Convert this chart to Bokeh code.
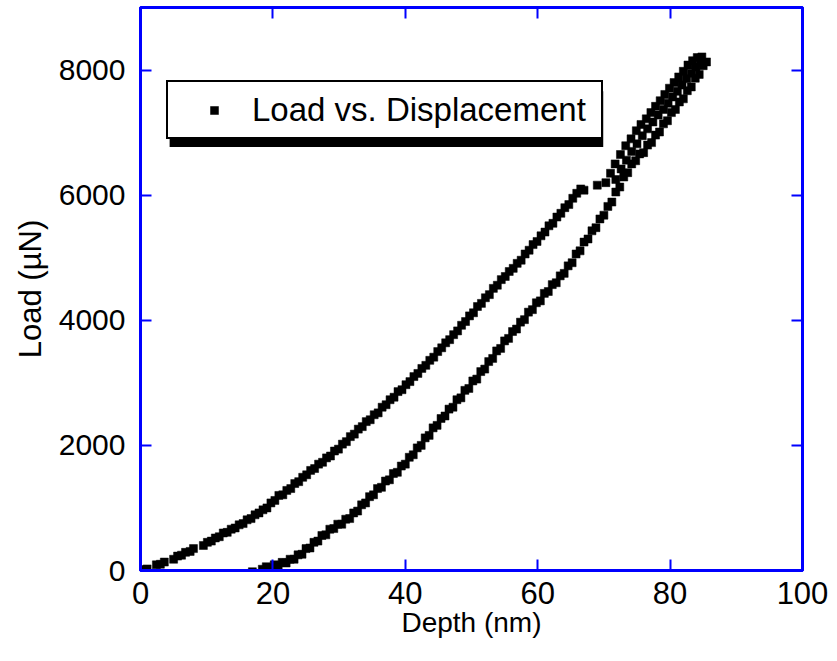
from bokeh.plotting import figure
from bokeh.models import (Range1d, LinearAxis, FixedTicker, Legend, LegendItem,
                          BoxAnnotation, ColumnDataSource)
from bokeh.embed import file_html
from bokeh.resources import INLINE

# ---- data (depth in nm, load in µN) ----
loading_depth = [0.0, 0.4, 1.0, 2.4, 3.0, 3.6, 5.0, 5.6, 6.2, 6.8, 7.5, 8.0,
                 9.5, 10.1, 10.7, 11.3, 11.9, 12.5, 13.1, 13.7, 14.3, 14.9, 15.5, 16.1,
                 16.7, 17.3, 17.9, 18.5, 19.1, 19.7, 20.3, 20.9, 21.5, 22.1, 22.7, 23.3,
                 23.9, 24.5, 25.1, 25.7, 26.3, 26.9, 27.5, 28.1, 28.7, 29.3, 29.9, 30.5,
                 31.1, 31.7, 32.3, 32.9, 33.5, 34.1, 34.7, 35.3, 35.9, 36.5, 37.1, 37.7,
                 38.3, 38.9, 39.5, 40.1, 40.7, 41.3, 41.9, 42.5, 43.1, 43.7, 44.3, 44.9,
                 45.5, 46.1, 46.7, 47.3, 47.9, 48.5, 49.1, 49.7, 50.3, 50.9, 51.5, 52.1,
                 52.7, 53.3, 53.9, 54.5, 55.1, 55.7, 56.3, 56.9, 57.5, 58.1, 58.7, 59.3,
                 59.9, 60.5, 61.1, 61.7, 62.3, 62.9, 63.5, 64.1, 64.7, 65.3, 65.9, 66.5,
                 67.0, 69.0,
                 70.3, 71.0, 71.7, 72.5, 73.3, 74.1, 74.9, 75.6, 76.4, 77.1, 77.8, 78.5,
                 79.2, 79.9, 80.6, 81.3, 82.0, 82.7, 83.4, 84.1, 84.8]
loading_load = [0, 15, 25, 90, 100, 135, 180, 230, 245, 290, 305, 350,
                400, 450, 470, 520, 540, 600, 610, 660, 680, 730, 750, 810,
                830, 890, 920, 970, 1000, 1080, 1120, 1200, 1210, 1280, 1310, 1390,
                1420, 1490, 1530, 1600, 1630, 1700, 1730, 1800, 1830, 1910, 1940, 2020,
                2060, 2140, 2180, 2260, 2300, 2380, 2410, 2490, 2520, 2610, 2650, 2730,
                2770, 2860, 2890, 2970, 3020, 3100, 3150, 3230, 3280, 3360, 3410, 3500,
                3560, 3640, 3690, 3770, 3830, 3920, 3980, 4070, 4120, 4220, 4270, 4360,
                4410, 4510, 4560, 4650, 4700, 4780, 4830, 4910, 4960, 5060, 5120, 5210,
                5260, 5350, 5410, 5510, 5550, 5650, 5710, 5800, 5850, 5950, 6030, 6100,
                6080, 6160,
                6200, 6350, 6500, 6650, 6790, 6900, 7030, 7130, 7220, 7320, 7420, 7510,
                7610, 7710, 7800, 7890, 7980, 8080, 8150, 8200, 8210]

# points filling the middle of the dense band near maximum load
hold_depth = [71.8, 72.6, 73.4, 74.2, 75.0, 75.8, 76.6, 77.4, 78.2, 79.0,
              79.7, 80.4, 81.1, 81.8, 82.5, 83.2, 83.9, 84.6]
hold_load = [6250, 6420, 6560, 6700, 6820, 6950, 7060, 7170, 7280, 7370,
             7470, 7570, 7660, 7760, 7860, 7950, 8050, 8120]

unloading_depth = [85.5, 85.0, 84.4, 83.8, 83.2, 82.6, 82.0, 81.4, 80.8, 80.2, 79.6, 79.0,
                   78.4, 77.8, 77.2, 76.6, 76.0, 75.4, 74.8, 74.2, 73.6, 73.0, 72.4, 71.8,
                   71.2, 70.6, 70.0, 69.4, 68.8, 68.2, 67.6, 67.0, 66.4, 65.8, 65.2, 64.6,
                   64.0, 63.4, 62.8, 62.2, 61.6, 61.0, 60.4, 59.8, 59.2, 58.6, 58.0, 57.4,
                   56.8, 56.2, 55.6, 55.0, 54.4, 53.8, 53.2, 52.6, 52.0, 51.4, 50.8, 50.2,
                   49.6, 49.0, 48.4, 47.8, 47.2, 46.6, 46.0, 45.4, 44.8, 44.2, 43.6, 43.0,
                   42.4, 41.8, 41.2, 40.6, 40.0, 39.4, 38.8, 38.2, 37.6, 37.0, 36.4, 35.8,
                   35.2, 34.6, 34.0, 33.4, 32.8, 32.2, 31.6, 31.0, 30.4, 29.8, 29.2, 28.6,
                   28.0, 27.4, 26.8, 26.2, 25.6, 25.0, 24.4, 23.8, 23.2, 22.6, 22.0, 21.4,
                   20.8, 20.2, 19.6, 19.0, 18.4, 16.9]
unloading_load = [8130, 8070, 7930, 7870, 7730, 7670, 7540, 7490, 7370, 7320, 7190, 7140,
                  7010, 6960, 6840, 6800, 6680, 6660, 6550, 6500, 6360, 6290, 6130, 6050,
                  5890, 5820, 5680, 5620, 5480, 5430, 5300, 5250, 5110, 5060, 4920, 4870,
                  4750, 4710, 4600, 4570, 4460, 4430, 4310, 4280, 4170, 4130, 4010, 3970,
                  3860, 3820, 3710, 3670, 3550, 3510, 3390, 3340, 3220, 3180, 3060, 3030,
                  2910, 2880, 2760, 2730, 2610, 2580, 2470, 2430, 2320, 2280, 2160, 2120,
                  2000, 1960, 1850, 1810, 1700, 1670, 1570, 1550, 1450, 1430, 1330, 1310,
                  1210, 1180, 1080, 1050, 950, 920, 830, 820, 740, 740, 670, 660,
                  570, 560, 470, 450, 360, 350, 260, 250, 180, 180, 120, 130,
                  80, 90, 40, 60, 20, -20]

x_ticks = [0, 20, 40, 60, 80, 100]
y_ticks = [0, 2000, 4000, 6000, 8000]
series_label = "Load vs. Displacement"
x_title = "Depth (nm)"
y_title = "Load (µN)"

# ---- figure ----
BLUE = "#0000ff"
FONT = "Liberation Sans"

src = ColumnDataSource(data=dict(depth=loading_depth + hold_depth + unloading_depth,
                                 load=loading_load + hold_load + unloading_load))

p = figure(width=837, height=661, output_backend="svg", toolbar_location=None,
           x_range=Range1d(0, 100), y_range=Range1d(0, 9000),
           min_border_left=140, min_border_right=35, min_border_top=7,
           min_border_bottom=91, x_axis_label=x_title, y_axis_label=y_title)
p.xgrid.visible = False
p.ygrid.visible = False
p.background_fill_color = "white"
p.border_fill_color = "white"
p.outline_line_color = BLUE
p.outline_line_width = 3

def style_axis(ax, ticks, font_size, standoff):
    ax.ticker = FixedTicker(ticks=ticks)
    ax.axis_line_color = BLUE
    ax.axis_line_width = 3
    ax.major_tick_line_color = BLUE
    ax.major_tick_line_width = 2
    ax.major_tick_in = 11
    ax.major_tick_out = 0
    ax.minor_tick_line_color = None
    ax.major_label_text_font = FONT
    ax.major_label_text_font_size = font_size
    ax.major_label_text_color = "black"
    ax.major_label_standoff = standoff
    ax.axis_label_text_font = FONT
    ax.axis_label_text_font_style = "normal"
    ax.axis_label_text_color = "black"

style_axis(p.xaxis[0], x_ticks, "31px", 11)
style_axis(p.yaxis[0], y_ticks, "30px", 15)
p.xaxis[0].axis_label_text_font_size = "28px"
p.yaxis[0].axis_label_text_font_size = "31px"
p.xaxis[0].axis_label_standoff = 0
p.yaxis[0].axis_label_standoff = 8

top_axis = LinearAxis()
right_axis = LinearAxis()
style_axis(top_axis, x_ticks, "0px", 0)
style_axis(right_axis, y_ticks, "0px", 0)
top_axis.major_label_text_color = None
right_axis.major_label_text_color = None
p.add_layout(top_axis, "above")
p.add_layout(right_axis, "right")

r = p.scatter(x="depth", y="load", source=src, marker="square", size=8,
              fill_color="black", line_color="black", line_width=0.5)

# legend shadow (offset box behind legend frame)
shadow = BoxAnnotation(left=4.4, right=69.9, top=7660, bottom=6770,
                       fill_color="black", fill_alpha=1, line_color=None)
p.add_layout(shadow)

legend = Legend(items=[LegendItem(label=series_label, renderers=[r])],
                location=(26, 431), orientation="vertical",
                label_text_font=FONT, label_text_font_size="33px",
                label_text_color="black", label_width=341, label_height=39,
                border_line_color="black", border_line_width=2, border_line_alpha=1,
                background_fill_color="white", background_fill_alpha=1,
                padding=8, margin=0, glyph_width=76, glyph_height=20,
                label_standoff=0, spacing=0)
p.add_layout(legend)

open("out.html", "w").write(file_html(p, INLINE))
